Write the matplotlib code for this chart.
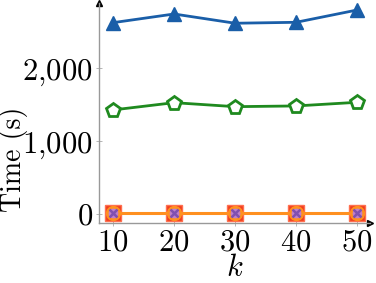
import matplotlib
matplotlib.use("Agg")
import matplotlib.pyplot as plt
from matplotlib.ticker import FuncFormatter

plt.rcParams['mathtext.fontset'] = 'cm'
plt.rcParams['font.family'] = 'serif'
plt.rcParams['font.serif'] = ['cmr10', 'DejaVu Serif']
plt.rcParams['axes.unicode_minus'] = False

k = [10, 20, 30, 40, 50]
blue_tri = [2628, 2747, 2620, 2633, 2802]
green_pent = [1429, 1529, 1474, 1484, 1534]
red_sq = [10, 10, 10, 10, 10]
orange_circ = [10, 10, 10, 10, 10]
purple_x = [10, 10, 10, 10, 10]

fig = plt.figure(figsize=(3.76, 2.83), dpi=100)
ax = fig.add_axes([99/376, 1 - 223/283, 271/376, 220/283])

ax.plot(k, blue_tri, color='#1a5ea8', lw=2, marker='^', ms=10, clip_on=False, zorder=5)
ax.plot(k, green_pent, color='#1f8a1f', lw=2, marker='p', ms=10, mfc='white',
        mew=2, clip_on=False, zorder=5)
ax.plot(k, red_sq, color='#f03c1e', lw=2, marker='s', ms=12, mec='#ff7050',
        clip_on=False, zorder=5)
ax.plot(k, orange_circ, color='#ff9020', lw=2.2, marker='o', ms=10,
        clip_on=False, zorder=6)
ax.plot(k, purple_x, ls='none', marker='o', ms=6, color='#c080c8', mec='#c080c8',
        clip_on=False, zorder=7)
ax.plot(k, purple_x, ls='none', marker='x', ms=6, mew=1.8, color='#8050b0',
        clip_on=False, zorder=8)

ax.set_xlim(7.7, 52.1)
ax.set_ylim(-124, 2898)
ax.set_xticks(k)
ax.set_yticks([0, 1000, 2000])
ax.xaxis.set_major_formatter(FuncFormatter(lambda v, p: r'$\mathrm{%d}$' % v))
ax.yaxis.set_major_formatter(FuncFormatter(
    lambda v, p: r'$\mathrm{' + f'{v:,.0f}'.replace(',', '{,}') + '}$'))

for s in ['top', 'right']:
    ax.spines[s].set_visible(False)
for s in ['left', 'bottom']:
    ax.spines[s].set_color('#999999')
    ax.spines[s].set_linewidth(1)
ax.tick_params(direction='inout', length=5, width=0.6, color='#aaaaaa',
               labelsize=22, pad=2)

ax.plot(1, 0, '>k', ms=4, transform=ax.transAxes, clip_on=False)
ax.plot(0, 1, '^k', ms=4, transform=ax.transAxes, clip_on=False)

ax.set_xlabel(r'$k$', fontsize=22)
ax.xaxis.set_label_coords(0.5, -0.145)
ax.set_ylabel('Time (s)', fontsize=20, family='cmr10')
ax.yaxis.set_label_coords(-0.262, 0.29)

fig.savefig('out.png', dpi=100)
